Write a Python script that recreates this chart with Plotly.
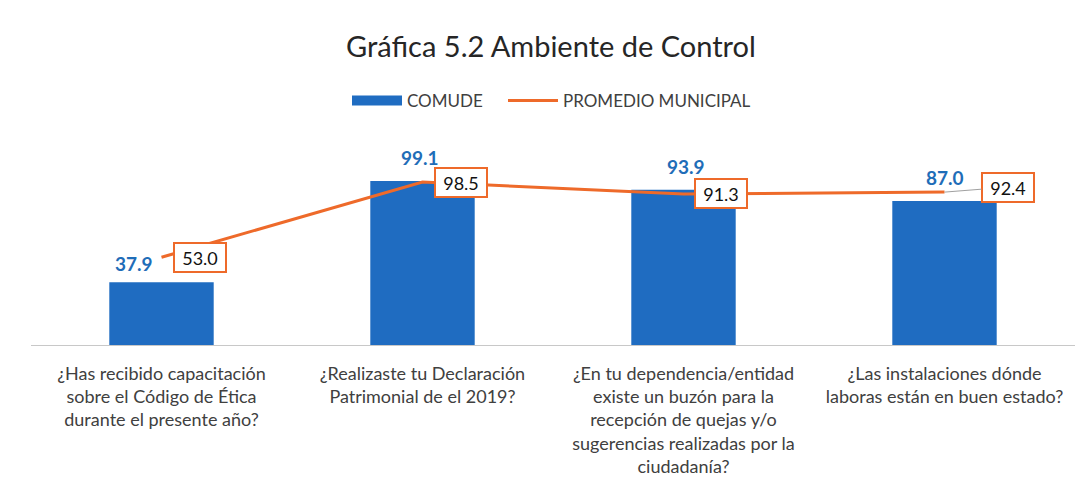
import plotly.graph_objects as go

categories = [
    "¿Has recibido capacitación<br>sobre el Código de Ética<br>durante el presente año?",
    "¿Realizaste tu Declaración<br>Patrimonial de el 2019?",
    "¿En tu dependencia/entidad<br>existe un buzón para la<br>recepción de quejas y/o<br>sugerencias realizadas por la<br>ciudadanía?",
    "¿Las instalaciones dónde<br>laboras están en buen estado?",
]
comude = [37.9, 99.1, 93.9, 87.0]
promedio = [53.0, 98.5, 91.3, 92.4]

# label placement styles (pixel offsets)
bar_label_xshift = [-28, -3, 2, 0]
bar_label_yshift = [5, 10, 10, 10]
line_label_ax = [38, 38, 37, 63]
line_label_ay = [0, 0, 0, -5]
leader_colors = ["rgba(0,0,0,0)", "rgba(0,0,0,0)", "rgba(0,0,0,0)", "#a0a0a0"]

BAR_COLOR = "#1F6CC1"
LINE_COLOR = "#EE6A2A"
LABEL_BLUE = "#1F6DB8"
FONT = "Lato"

fig = go.Figure()
fig.add_trace(go.Bar(
    x=categories, y=comude, name="COMUDE", showlegend=False,
    marker=dict(color=BAR_COLOR, line=dict(width=0)),
))
# legend-only swatch for the bars (wide rectangle like the original)
fig.add_trace(go.Scatter(
    x=[None], y=[None], name="COMUDE", mode="lines",
    line=dict(color=BAR_COLOR, width=10), legend="legend",
))
fig.add_trace(go.Scatter(
    x=categories, y=promedio, name="PROMEDIO MUNICIPAL",
    mode="lines", line=dict(color=LINE_COLOR, width=3), legend="legend2",
))

annotations = []
for i, (c, v) in enumerate(zip(categories, comude)):
    annotations.append(dict(
        x=c, y=v, xref="x", yref="y", text=f"<b>{v:.1f}</b>",
        showarrow=False, yanchor="bottom", yshift=bar_label_yshift[i],
        xshift=bar_label_xshift[i],
        font=dict(family=FONT, size=19, color=LABEL_BLUE),
    ))
for i, (c, v) in enumerate(zip(categories, promedio)):
    annotations.append(dict(
        x=c, y=v, xref="x", yref="y", text=f"{v:.1f}",
        showarrow=True, arrowhead=0, arrowwidth=1, arrowcolor=leader_colors[i],
        ax=line_label_ax[i], ay=line_label_ay[i],
        bgcolor="white", bordercolor=LINE_COLOR, borderwidth=2, borderpad=3,
        width=44, height=21,
        font=dict(family=FONT, size=18, color="#111111"),
    ))

legend_style = dict(orientation="h", xanchor="left", yref="container",
                    y=1 - 101 / 492, yanchor="middle",
                    font=dict(family=FONT, size=17, color="#404040"),
                    itemwidth=50, bgcolor="rgba(0,0,0,0)")

fig.update_layout(
    width=1091, height=492,
    margin=dict(l=31, r=16, t=163, b=147),
    paper_bgcolor="white", plot_bgcolor="white",
    bargap=0.6,
    title=dict(text="Gráfica 5.2 Ambiente de Control", x=0.505, xanchor="center",
               y=1 - 47 / 492, yanchor="middle",
               font=dict(family=FONT, size=29, color="#262626")),
    legend=dict(legend_style, x=(352 - 5) / 1091, xref="container"),
    legend2=dict(legend_style, x=(513 - 10) / 1091, xref="container"),
    annotations=annotations,
    showlegend=True,
)
fig.update_xaxes(showline=True, linecolor="#c8c8c8", linewidth=1, ticks="",
                 showgrid=False, ticklabelstandoff=12,
                 tickfont=dict(family=FONT, size=18, color="#404040"))
fig.update_yaxes(range=[0, 110], visible=False, showgrid=False)

fig.write_html("out.html", config={"displayModeBar": False},
               post_script="document.body.style.margin='0';")
